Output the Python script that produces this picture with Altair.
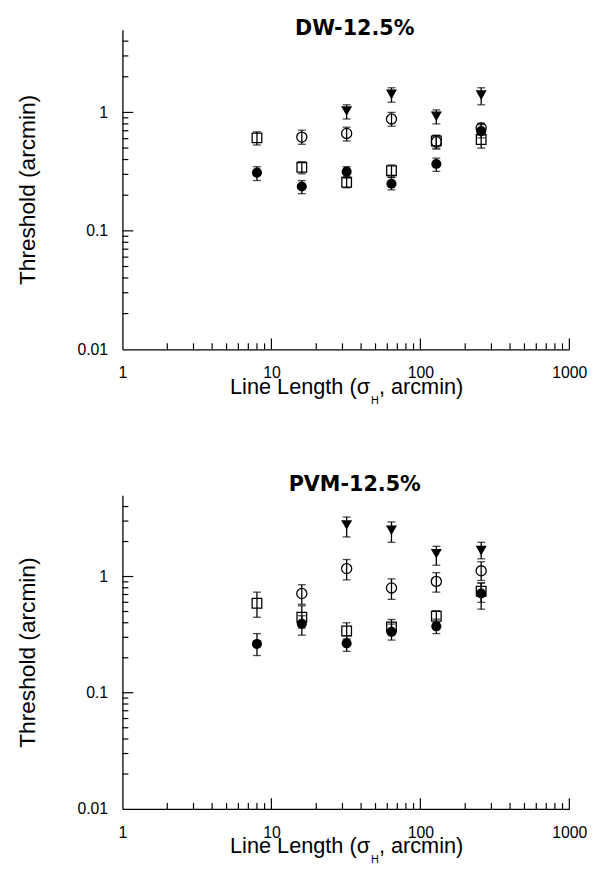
import altair as alt
import pandas as pd

# ---------------- data ----------------
X6 = [8, 16, 32, 64, 128, 256]
X5 = [16, 32, 64, 128, 256]
X4 = [32, 64, 128, 256]

# DW-12.5% panel
dw_fc = [0.310, 0.237, 0.316, 0.250, 0.367, 0.695]
dw_fc_lo = [0.266, 0.206, 0.280, 0.222, 0.318, 0.610]
dw_fc_hi = [0.348, 0.266, 0.348, 0.282, 0.411, 0.790]
dw_oc = [0.619, 0.664, 0.880, 0.565, 0.740]
dw_oc_lo = [0.538, 0.574, 0.765, 0.490, 0.660]
dw_oc_hi = [0.708, 0.750, 1.000, 0.640, 0.810]
dw_os = [0.610, 0.344, 0.257, 0.322, 0.574, 0.590]
dw_os_lo = [0.531, 0.303, 0.231, 0.285, 0.500, 0.500]
dw_os_hi = [0.686, 0.383, 0.287, 0.360, 0.640, 0.660]
dw_tr = [1.03, 1.42, 0.926, 1.40]
dw_tr_lo = [0.88, 1.22, 0.80, 1.16]
dw_tr_hi = [1.16, 1.615, 1.05, 1.615]

# PVM-12.5% panel
pvm_fc = [0.263, 0.392, 0.266, 0.334, 0.373, 0.714]
pvm_fc_lo = [0.209, 0.313, 0.227, 0.284, 0.323, 0.524]
pvm_fc_hi = [0.323, 0.460, 0.310, 0.390, 0.430, 0.880]
pvm_oc = [0.714, 1.17, 0.797, 0.908, 1.12]
pvm_oc_lo = [0.577, 0.936, 0.636, 0.734, 0.925]
pvm_oc_hi = [0.850, 1.40, 0.955, 1.08, 1.34]
pvm_os = [0.589, 0.446, 0.340, 0.368, 0.455, 0.748]
pvm_os_lo = [0.446, 0.360, 0.290, 0.320, 0.400, 0.600]
pvm_os_hi = [0.734, 0.560, 0.400, 0.427, 0.508, 0.880]
pvm_tr = [2.77, 2.50, 1.57, 1.67]
pvm_tr_lo = [2.19, 1.97, 1.25, 1.42]
pvm_tr_hi = [3.25, 2.95, 1.82, 1.97]

# axis ticks / labels
X_LABELS = [1, 10, 100, 1000]
X_MAJOR = [10, 100, 1000]
X_MINOR = [2, 3, 4, 5, 6, 7, 8, 9, 20, 30, 40, 50, 60, 70, 80, 90,
           200, 300, 400, 500, 600, 700, 800, 900]
Y_LABELS = [0.01, 0.1, 1]
Y_MAJOR = [0.1, 1]
Y_MINOR = [0.02, 0.03, 0.04, 0.05, 0.06, 0.07, 0.08, 0.09,
           0.2, 0.3, 0.4, 0.5, 0.6, 0.7, 0.8, 0.9, 2, 3, 4]

X_TITLE_A = "Line Length (σ"
X_TITLE_SUB = "H"
X_TITLE_B = ", arcmin)"
Y_TITLE = "Threshold (arcmin)"

W = 453
FONT = "Liberation Sans"


def series_df(xs, ys, lo, hi):
    return pd.DataFrame({"x": xs, "y": ys, "lo": lo, "hi": hi})


def panel(title, fc, oc, os_, tr, height, title_offset):
    xs = alt.Scale(type="log", domain=[1, 1000], nice=False)
    ys = alt.Scale(type="log", domain=[0.01, 5], nice=False)
    xaxis = alt.Axis(values=X_LABELS, format="~g", ticks=False, grid=False,
                     tickSize=0, labelPadding=16, title=None, labelFlush=False,
                     labelOverlap=False)
    yaxis = alt.Axis(values=Y_LABELS, format="~g", ticks=False, grid=False,
                     tickSize=0, labelPadding=15, title=Y_TITLE,
                     titlePadding=38, labelOverlap=False, labelFlush=False)

    def X(f):
        return alt.X(f, scale=xs, axis=xaxis)

    def Y(f):
        return alt.Y(f, scale=ys, axis=yaxis)

    layers = []
    # inward axis ticks
    layers.append(alt.Chart(pd.DataFrame({"v": X_MAJOR})).mark_rule(
        color="black", strokeWidth=1.2).encode(
        x=X("v:Q"), y=alt.value(height), y2=alt.value(height - 11)))
    layers.append(alt.Chart(pd.DataFrame({"v": X_MINOR})).mark_rule(
        color="black", strokeWidth=1.2).encode(
        x=X("v:Q"), y=alt.value(height), y2=alt.value(height - 6)))
    layers.append(alt.Chart(pd.DataFrame({"v": Y_MAJOR})).mark_rule(
        color="black", strokeWidth=1.2).encode(
        y=Y("v:Q"), x=alt.value(0), x2=alt.value(11)))
    layers.append(alt.Chart(pd.DataFrame({"v": Y_MINOR})).mark_rule(
        color="black", strokeWidth=1.2).encode(
        y=Y("v:Q"), x=alt.value(0), x2=alt.value(6)))

    specs = [
        (fc, dict(shape="circle", filled=True, size=105)),
        (os_, dict(shape="square", filled=False, size=95)),
        (oc, dict(shape="circle", filled=False, size=105)),
        (tr, dict(shape="triangle-down", filled=True, size=125)),
    ]
    for df, _ in specs:
        base = alt.Chart(df)
        layers.append(base.mark_rule(color="black", strokeWidth=1.3).encode(
            x=X("x:Q"), y=Y("lo:Q"), y2="hi:Q"))
        for f in ("lo", "hi"):
            layers.append(base.mark_tick(orient="horizontal", size=8,
                                         thickness=1.3, color="black").encode(
                x=X("x:Q"), y=Y(f + ":Q")))
    for df, kw in specs:
        layers.append(alt.Chart(df).mark_point(
            color="black", strokeWidth=1.3, opacity=1, **kw).encode(
            x=X("x:Q"), y=Y("y:Q")))

    # x-axis title with subscript
    layers.append(alt.Chart(pd.DataFrame({"t": [X_TITLE_A]})).mark_text(
        align="right", baseline="alphabetic", font=FONT, fontSize=22,
        color="black").encode(text="t:N", x=alt.value(251),
                              y=alt.value(height + 45)))
    layers.append(alt.Chart(pd.DataFrame({"t": [X_TITLE_SUB]})).mark_text(
        align="left", baseline="alphabetic", font=FONT, fontSize=11,
        color="black").encode(text="t:N", x=alt.value(252),
                              y=alt.value(height + 55)))
    layers.append(alt.Chart(pd.DataFrame({"t": [X_TITLE_B]})).mark_text(
        align="left", baseline="alphabetic", font=FONT, fontSize=22,
        color="black").encode(text="t:N", x=alt.value(260),
                              y=alt.value(height + 45)))

    return alt.layer(*layers).properties(
        width=W, height=height,
        title=alt.TitleParams(title, font="DejaVu Sans", fontSize=21,
                              fontWeight="bold", color="black",
                              baseline="alphabetic", offset=title_offset,
                              dx=9, anchor="middle"))


p1 = panel("DW-12.5%", series_df(X6, dw_fc, dw_fc_lo, dw_fc_hi),
           series_df(X5, dw_oc, dw_oc_lo, dw_oc_hi),
           series_df(X6, dw_os, dw_os_lo, dw_os_hi),
           series_df(X4, dw_tr, dw_tr_lo, dw_tr_hi), 324, -26)
p2 = panel("PVM-12.5%", series_df(X6, pvm_fc, pvm_fc_lo, pvm_fc_hi),
           series_df(X5, pvm_oc, pvm_oc_lo, pvm_oc_hi),
           series_df(X6, pvm_os, pvm_os_lo, pvm_os_hi),
           series_df(X4, pvm_tr, pvm_tr_lo, pvm_tr_hi), 318, -17)

chart = alt.vconcat(p1, p2, spacing=68).properties(
    padding={"left": 8, "top": 3, "right": 5, "bottom": 5}
).configure(background="white").configure_view(
    stroke="transparent"
).configure_axis(
    labelFont=FONT, titleFont=FONT, labelFontSize=16, titleFontSize=23,
    titleFontWeight="normal", labelColor="black", titleColor="black",
    domainColor="black", domainWidth=1.3
)

chart.save("out.html", embed_options={"renderer": "svg", "actions": False})
